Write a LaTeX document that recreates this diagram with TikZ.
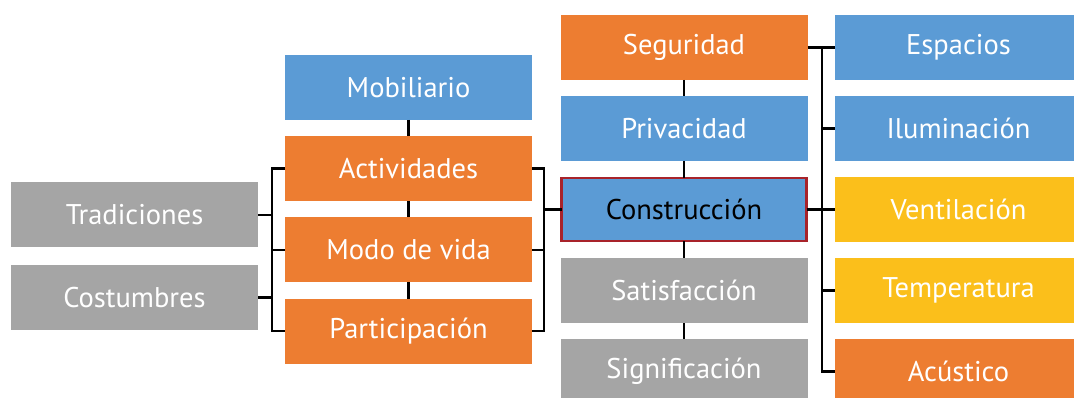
\documentclass[tikz,border=0pt]{standalone}
\usepackage{fontspec}
\setmainfont{PT Sans}
\definecolor{cOr}{HTML}{ED7D31}
\definecolor{cBl}{HTML}{5B9BD5}
\definecolor{cGr}{HTML}{A5A5A5}
\definecolor{cYe}{HTML}{FBBF1B}
\definecolor{cRd}{HTML}{A8232A}
\begin{document}
\begin{tikzpicture}[x=1pt,y=1pt,
  box/.style={inner sep=0pt, outer sep=0pt, minimum width=247pt, minimum height=65pt, text=white, font=\fontsize{28.5}{32}\selectfont},
  obox/.style={box, fill=cOr},
  bbox/.style={box, fill=cBl},
  gbox/.style={box, fill=cGr},
  ybox/.style={box, fill=cYe},
  conn/.style={line width=2.6pt, black}]
\useasboundingbox (0,0) rectangle (1074,-398);
\begin{scope}
\clip (0,0) rectangle (1074,-398);
% left column
\node[gbox] (trad) at (134.5,-215) {Tradiciones};
\node[gbox] (cost) at (134.5,-297.5) {Costumbres};
% middle column
\node[bbox] (mob) at (408.5,-87.5) {Mobiliario};
\node[obox] (act) at (408.5,-168.5) {Actividades};
\node[obox] (mod) at (408.5,-250) {Modo de vida};
\node[obox] (par) at (408.5,-331) {Participación};
% third column
\node[obox] (seg) at (684,-47.5) {Seguridad};
\node[bbox] (pri) at (684,-128.5) {Privacidad};
\node[bbox, draw=cRd, line width=2.5pt, text=black, minimum width=245pt, minimum height=63pt] (con) at (684,-209.5) {Construcción};
\node[gbox] (sat) at (684,-290.5) {Satisfacción};
\node[gbox] (sig) at (684,-371.5) {Significación};
% right column
\node[bbox] (esp) at (958.5,-47.5) {Espacios};
\node[bbox] (ilu) at (958.5,-128.5) {Iluminación};
\node[ybox] (ven) at (958.5,-209.5) {Ventilación};
\node[ybox] (tem) at (958.5,-290.5) {Temperatura};
\node[obox] (acu) at (958.5,-371.5) {Acústico};
\end{scope}
% bracket coordinates
\coordinate (L) at (272,0);
\coordinate (R) at (544,0);
\coordinate (S) at (822,0);
% left bracket
\draw[conn] (trad.east) -- (trad.east -| L);
\draw[conn] (cost.east) -- (cost.east -| L);
\draw[conn] (act.west) -- (act.west -| L) -- (par.west -| L) -- (par.west);
\draw[conn] (mod.west) -- (mod.west -| L);
% middle vertical
\draw[conn] (mob.south) -- (act.north);
\draw[conn] (act.south) -- (mod.north);
\draw[conn] (mod.south) -- (par.north);
% right bracket of middle
\draw[conn] (act.east) -- (act.east -| R) -- (par.east -| R) -- (par.east);
\draw[conn] (mod.east) -- (mod.east -| R);
\draw[conn] (con.west -| R) -- (con.west);
% third column vertical
\draw[conn] (seg.south) -- (pri.north);
\draw[conn] (pri.south) -- (con.north);
\draw[conn] (con.south) -- (sat.north);
\draw[conn] (sat.south) -- (sig.north);
% right bracket
\draw[conn] (seg.east) -- (esp.west);
\draw[conn] (esp.west -| S) -- (acu.west -| S) -- (acu.west);
\draw[conn] (ilu.west -| S) -- (ilu.west);
\draw[conn] (con.east) -- (ven.west);
\draw[conn] (tem.west -| S) -- (tem.west);
\end{tikzpicture}
\end{document}
